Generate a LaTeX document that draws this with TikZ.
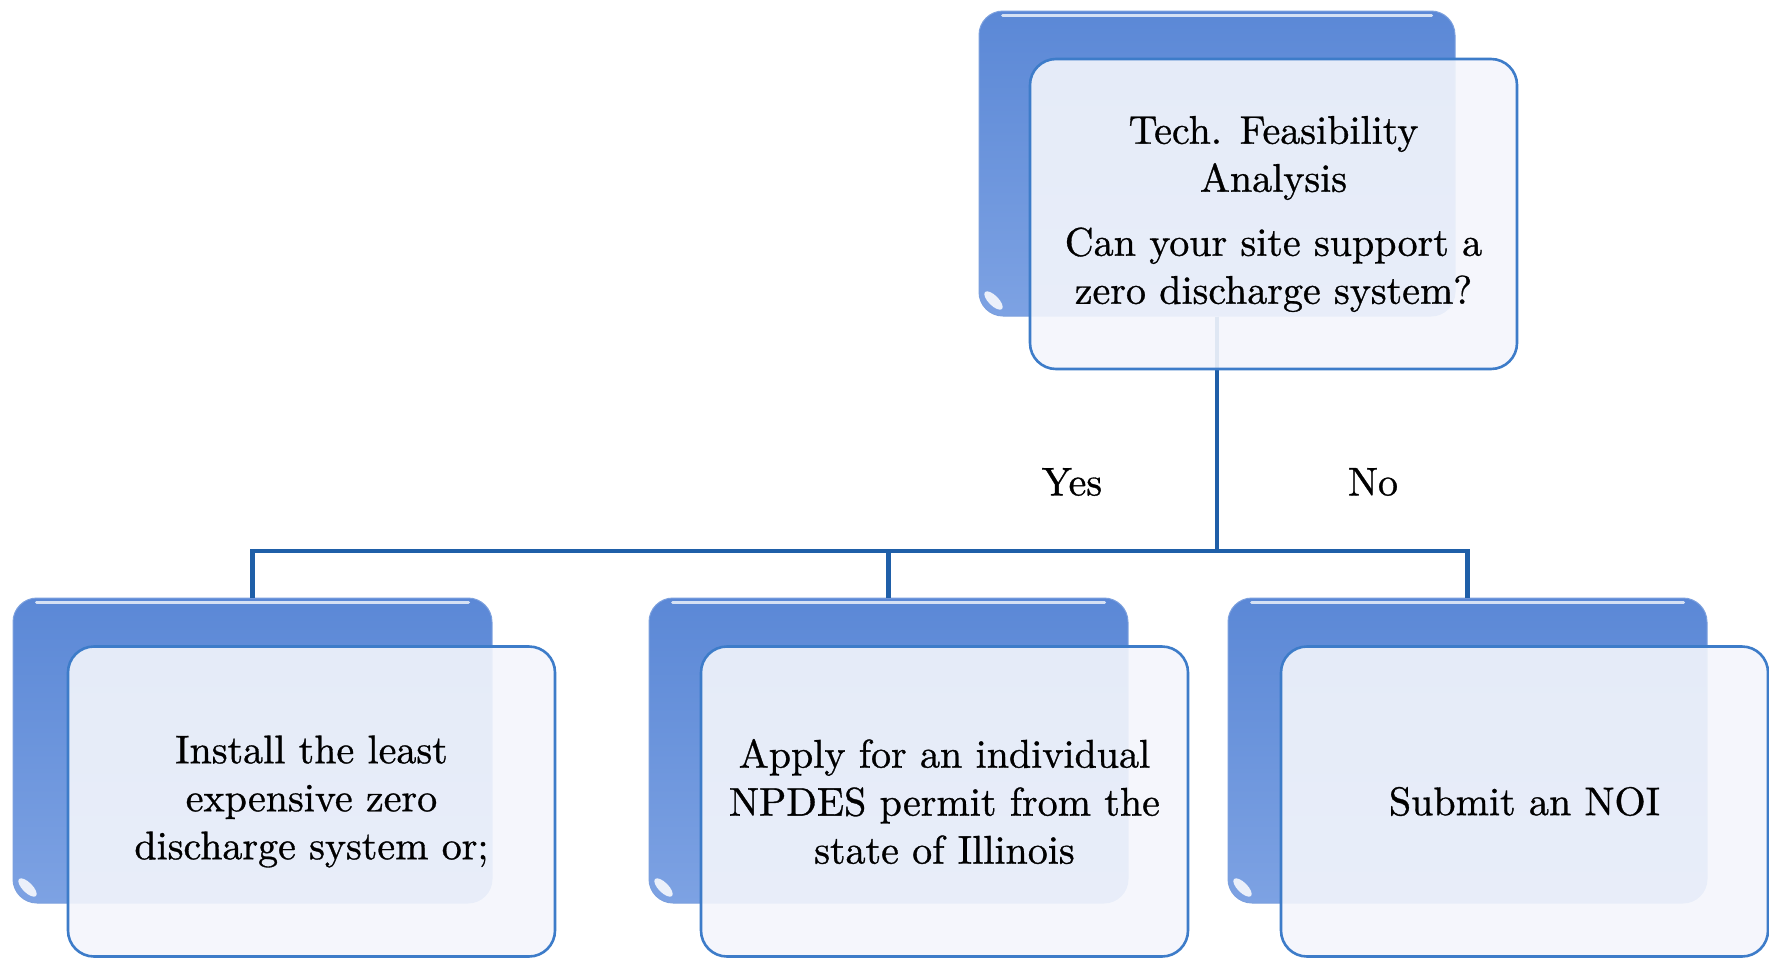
\documentclass[tikz,border=0pt]{standalone}
\usepackage{fontspec}
\setmainfont{lmroman10-regular.otf}[FakeBold=0.8]
\usetikzlibrary{calc}
\definecolor{conncol}{HTML}{1F5FA8}
\definecolor{frontborder}{HTML}{3D7CC9}
\definecolor{frontfill}{HTML}{F4F6FC}
\definecolor{backtop}{HTML}{5B88D6}
\definecolor{backbot}{HTML}{7DA2E3}
\begin{document}
\begin{tikzpicture}[x=1pt,y=-1pt,
  backbox/.style={rectangle, rounded corners=24pt, minimum width=479pt, minimum height=305pt,
    inner sep=0pt, top color=backtop, bottom color=backbot, draw=backtop!80!white, line width=1pt},
  frontbox/.style={rectangle, rounded corners=26pt, minimum width=487pt, minimum height=310pt,
    inner sep=0pt, draw=frontborder, line width=2.6pt, fill=frontfill, fill opacity=0.9,
    text opacity=1, align=center, font=\fontsize{40}{48}\selectfont},
  conn/.style={draw=conncol, line width=4.5pt},
  lbl/.style={font=\fontsize{40}{48}\selectfont},
  shine/.style={draw=white, draw opacity=0.75, line width=3pt, line cap=round},
  glare/.style={fill=white, fill opacity=0.85}
]
\useasboundingbox (0,0) rectangle (1769,961);
\fill[white] (0,0) rectangle (1769,961);

% back boxes
\node[backbox, minimum width=476pt] (tback) at (1217,163.5) {};
\node[backbox] (lback) at (252.5,750.5) {};
\node[backbox] (mback) at (888.5,750.5) {};
\node[backbox] (rback) at (1467.5,750.5) {};

% highlights on back boxes
\foreach \b in {tback,lback,mback,rback}{
  \draw[shine] ([xshift=24pt,yshift=-5pt]\b.north west) -- ([xshift=-24pt,yshift=-5pt]\b.north east);
  \coordinate (g\b) at ([xshift=15pt,yshift=16pt]\b.south west);
  \fill[glare, rotate around={-45:(g\b)}] (g\b) ellipse (12pt and 5pt);
}

% connectors
\coordinate (jmid) at (1219,551);
\draw[conn] (tback.south) -- (tback.south |- jmid);
\draw[conn] (lback.north) -- (lback.north |- jmid) -- (rback.north |- jmid) -- (rback.north);
\draw[conn] (mback.north) -- (mback.north |- jmid);

% labels
\node[lbl] (yes) at (1072,482) {Yes};
\node[lbl] (no) at (1373,482) {No};

% front boxes
\node[frontbox] (tfront) at (1273.5,214) {Tech. Feasibility\\ Analysis\\[16pt] Can your site support a\\ zero discharge system?};
\node[frontbox] (lfront) at (311.5,801.5) {Install the least\\ expensive zero\\ discharge system or;};
\node[frontbox] (mfront) at (944.5,801.5) {Apply for an individual\\ NPDES permit from the\\ state of Illinois};
\node[frontbox] (rfront) at (1524.5,801.5) {Submit an NOI};
\end{tikzpicture}
\end{document}
